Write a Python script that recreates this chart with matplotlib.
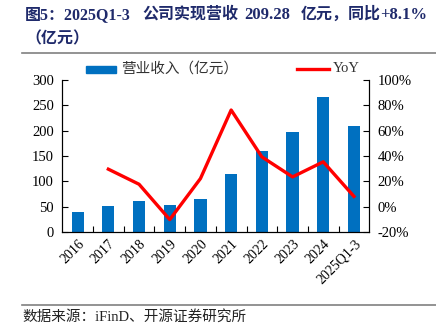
import matplotlib
matplotlib.use("Agg")
import matplotlib.pyplot as plt
from matplotlib.lines import Line2D
from matplotlib.patches import Rectangle

categories = ["2016", "2017", "2018", "2019", "2020", "2021", "2022", "2023", "2024", "2025Q1-3"]
revenue = [39.5, 50.8, 60.7, 54.0, 66.0, 115.4, 160.0, 197.0, 265.6, 209.28]
yoy_cats = categories[1:]
yoy = [29.6, 17.7, -10.2, 22.2, 76.3, 39.3, 23.5, 35.4, 8.1]

FAM = ['Liberation Serif', 'Noto Sans CJK SC']
plt.rcParams['font.family'] = FAM

W, H = 436, 334
fig = plt.figure(figsize=(W / 100, H / 100), dpi=100)

x0, x1 = 62.3, 369.3
y0, y1 = 80, 232
ax = fig.add_axes([x0 / W, 1 - y1 / H, (x1 - x0) / W, (y1 - y0) / H])

xs = list(range(len(categories)))
ax.bar(xs, revenue, width=0.4, color='#0070C0', zorder=2)
ax.set_xlim(-0.5, len(categories) - 0.5)
ax.set_ylim(0, 300)
ax.set_yticks(range(0, 301, 50))
ax.tick_params(axis='y', direction='in', length=4, labelsize=10.5, pad=6)
ax.set_xticks([i + 0.5 for i in range(len(categories) - 1)])
ax.set_xticklabels([])
ax.tick_params(axis='x', which='major', direction='in', length=4)
ax.set_xticks(xs, minor=True)
ax.set_xticklabels(categories, minor=True, rotation=45, ha='right', va='top', rotation_mode='anchor', fontsize=10)
ax.tick_params(axis='x', which='minor', length=0, pad=4)
ax.spines['top'].set_visible(False)
for s in ['left', 'right', 'bottom']:
    ax.spines[s].set_color('black')
    ax.spines[s].set_linewidth(0.8)

ax2 = ax.twinx()
yx = [categories.index(c) for c in yoy_cats]
ax2.plot(yx, yoy, color='#FF0000', lw=2.4, zorder=3)
ax2.set_ylim(-20, 100)
ax2.set_yticks(range(-20, 101, 20))
ax2.set_yticklabels([f"{v}%" for v in range(-20, 101, 20)])
ax2.tick_params(axis='y', direction='in', length=4, labelsize=10.5, pad=6)
ax2.spines['top'].set_visible(False)
ax2.spines['right'].set_linewidth(0.8)

# legend
fig.patches.append(Rectangle((86 / W, 1 - 72.5 / H), 30 / W, 7 / H, transform=fig.transFigure, color='#0070C0'))
fig.text(121 / W, 1 - 69 / H, '营业收入（亿元）', fontsize=10.5, va='center', ha='left', color='#333333')
fig.lines.append(Line2D([297 / W, 329 / W], [1 - 69 / H, 1 - 69 / H], transform=fig.transFigure, color='#FF0000', lw=2.4))
fig.text(333 / W, 1 - 69 / H, 'YoY', fontsize=10.5, va='center', ha='left', color='#333333')

# title (segments placed as in the reference)
navy = '#1F2A6B'
title_parts = [(25, '图5：2025Q1-3', 11.5), (142, '公司实现营收', 11.5), (244, '209.28', 12),
               (301, '亿元，同比', 11.5), (380, '+8.1%', 12)]
for px, txt, fs in title_parts:
    fig.text(px / W, 1 - 15 / H, txt, fontsize=fs, fontweight='bold', color=navy, va='center', ha='left')
fig.text(25 / W, 1 - 39 / H, '（亿元）', fontsize=11.5, fontweight='bold', color=navy, va='center', ha='left')
fig.lines.append(Line2D([22 / W, 1.0], [1 - 52.5 / H, 1 - 52.5 / H], transform=fig.transFigure, color='#808080', lw=1.2))

# footer
fig.lines.append(Line2D([22 / W, 1.0], [1 - 304.7 / H, 1 - 304.7 / H], transform=fig.transFigure, color='#808080', lw=1.2))
fig.text(22 / W, 1 - 317 / H, '数据来源：iFinD、开源证券研究所', fontsize=10.5, color='#222222', va='center', ha='left')

fig.savefig('out.png', dpi=100)
